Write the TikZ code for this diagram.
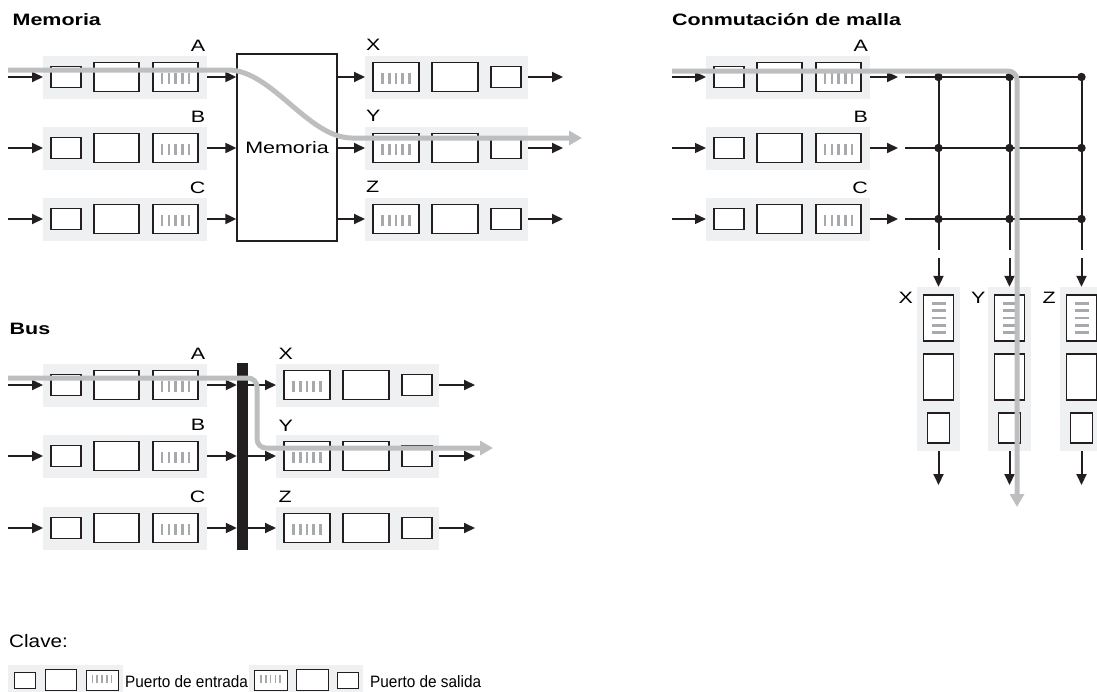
\documentclass[tikz,border=0pt]{standalone}
\usepackage{fontspec}
\setmainfont[FakeStretch=1.3]{Liberation Sans}
\newfontfamily\keyfont[FakeStretch=0.93]{Liberation Sans}
\newfontfamily\clavefont[FakeStretch=1.15]{Liberation Sans}
\usetikzlibrary{arrows.meta}
\definecolor{portbg}{RGB}{239,240,241}
\definecolor{routegray}{RGB}{188,190,192}
\definecolor{stripegray}{RGB}{167,169,172}
\definecolor{ink}{RGB}{35,31,32}
\tikzset{
  inbg/.style={fill=portbg, draw=none, inner sep=0pt, minimum width=164pt, minimum height=43pt},
  outbg/.style={fill=portbg, draw=none, inner sep=0pt, minimum width=163pt, minimum height=43pt},
  colbg/.style={fill=portbg, draw=none, inner sep=0pt, minimum width=43pt, minimum height=164pt},
  pbox/.style={draw=ink, fill=white, line width=1.3pt, inner sep=0pt},
  sbox/.style={pbox, minimum width=30pt, minimum height=21pt},
  mbox/.style={pbox, minimum width=45pt, minimum height=29pt},
  qbox/.style={pbox, minimum width=45pt, minimum height=29pt},
  stripe/.style={draw=stripegray, line width=2.6pt},
  kstripe/.style={draw=stripegray, line width=1.6pt},
  arr/.style={draw=ink, line width=2pt, -{Triangle[length=11pt,width=10pt]}},
  thinarr/.style={arr, line width=1.3pt},
  wire/.style={draw=ink, line width=2pt},
  route/.style={draw=routegray, line width=5pt, -{Triangle[length=13pt,width=14pt]}},
  lbl/.style={inner sep=0pt, font=\fontsize{16.5}{18}\selectfont},
  ttl/.style={inner sep=0pt, font=\fontsize{16.5}{18}\selectfont\bfseries},
  keytxt/.style={inner sep=0pt, font=\keyfont\fontsize{16.5}{18}\selectfont},
}
\newcommand\inport[3]{%
  \node[inbg, anchor=west] (#1) at (#2,#3) {};
  \node[sbox] (#1s) at ([xshift=23pt]#1.west) {};
  \node[mbox] (#1m) at ([xshift=73.5pt]#1.west) {};
  \node[qbox] (#1q) at ([xshift=132.5pt]#1.west) {};
  \foreach \k in {-2,...,2} \draw[stripe] ([xshift=\k*6.7pt,yshift=-6.5pt]#1q.center) -- ([xshift=\k*6.7pt,yshift=4.5pt]#1q.center);
}
\newcommand\outport[3]{%
  \node[outbg, anchor=west] (#1) at (#2,#3) {};
  \node[qbox, minimum width=46pt] (#1q) at ([xshift=31pt]#1.west) {};
  \node[mbox, minimum width=46pt] (#1m) at ([xshift=90pt]#1.west) {};
  \node[sbox] (#1s) at ([xshift=141pt]#1.west) {};
  \foreach \k in {-2,...,2} \draw[stripe] ([xshift=\k*6.7pt,yshift=-6.5pt]#1q.center) -- ([xshift=\k*6.7pt,yshift=4.5pt]#1q.center);
}
\newcommand\colport[2]{%
  \node[colbg] (#1) at (#2,369) {};
  \node[pbox, minimum width=30pt, minimum height=46pt] (#1q) at (#2,318) {};
  \node[pbox, minimum width=30pt, minimum height=46pt] (#1m) at (#2,377) {};
  \node[pbox, minimum width=22pt, minimum height=30pt] (#1s) at (#2,428) {};
  \foreach \k in {-2,...,2} \draw[stripe] ([yshift=\k*7.3pt,xshift=-7pt]#1q.center) -- ([yshift=\k*7.3pt,xshift=7pt]#1q.center);
}
\begin{document}
\begin{tikzpicture}[x=1pt,y=-1pt]
\useasboundingbox (0,0) rectangle (1097,691);

% ================= Memoria =================
\node[ttl, anchor=base west] (t1) at (12.5,25) {Memoria};
\inport{mA}{43}{77}
\inport{mB}{43}{148}
\inport{mC}{43}{219}
\outport{mX}{365}{77}
\outport{mY}{365}{148}
\outport{mZ}{365}{219}
\node[pbox, minimum width=100pt, minimum height=187pt, lbl] (mem) at (287,147.5) {Memoria};
\node[lbl, anchor=base east] (mAl) at (205.5,51) {A};
\node[lbl, anchor=base east] (mBl) at (205.5,122) {B};
\node[lbl, anchor=base east] (mCl) at (205.5,193) {C};
\node[lbl, anchor=base west] (mXl) at (366,50) {X};
\node[lbl, anchor=base west] (mYl) at (366,121) {Y};
\node[lbl, anchor=base west] (mZl) at (366,192) {Z};
\foreach \r/\y in {A/77,B/148,C/219}{
  \coordinate (mi\r) at (8,\y);
  \draw[arr] (mi\r) -- (m\r.west);
  \draw[arr] (m\r.east) -- (mem.west |- m\r.east);
}
\foreach \r/\y in {X/77,Y/148,Z/219}{
  \coordinate (mo\r) at (563,\y);
  \draw[arr] (mem.east |- m\r.west) -- (m\r.west);
  \draw[arr] (m\r.east) -- (mo\r);
}
\coordinate (r1a) at (8,70);
\coordinate (r1b) at (228,70);
\coordinate (r1c) at (352,138);
\coordinate (r1d) at (582,138);
\draw[route] (r1a) -- (r1b) .. controls (272,70) and (308,138) .. (r1c) -- (r1d);

% ================= Bus =================
\node[ttl, anchor=base west] (t2) at (9.5,334) {Bus};
\inport{bA}{43}{385}
\inport{bB}{43}{456}
\inport{bC}{43}{528}
\outport{bX}{276}{385}
\outport{bY}{276}{456}
\outport{bZ}{276}{528}
\node[fill=ink, draw=none, inner sep=0pt, minimum width=11pt, minimum height=187pt] (bus) at (242.5,456.5) {};
\node[lbl, anchor=base east] (bAl) at (205.5,359.5) {A};
\node[lbl, anchor=base east] (bBl) at (205.5,430.5) {B};
\node[lbl, anchor=base east] (bCl) at (205.5,502) {C};
\node[lbl, anchor=base west] (bXl) at (278.5,359) {X};
\node[lbl, anchor=base west] (bYl) at (278.5,431) {Y};
\node[lbl, anchor=base west] (bZl) at (278.5,502) {Z};
\foreach \r/\y in {A/385,B/456,C/528}{
  \coordinate (bi\r) at (8,\y);
  \draw[arr] (bi\r) -- (b\r.west);
  \draw[arr] (b\r.east) -- (bus.west |- b\r.east);
}
\foreach \r/\y in {X/385,Y/456,Z/528}{
  \coordinate (bo\r) at (475,\y);
  \draw[arr] (bus.east |- b\r.west) -- (b\r.west);
  \draw[arr] (b\r.east) -- (bo\r);
}
\coordinate (r2a) at (8,378);
\coordinate (r2b) at (257,448);
\coordinate (r2c) at (493,448);
\draw[route, rounded corners=9pt] (r2a) -| (r2b) -- (r2c);

% ================= Conmutacion de malla =================
\node[ttl, anchor=base west] (t3) at (672,25.5) {Conmutación de malla};
\inport{cA}{706}{77}
\inport{cB}{706}{148}
\inport{cC}{706}{219}
\node[lbl, anchor=base east] (cAl) at (868,51) {A};
\node[lbl, anchor=base east] (cBl) at (868,122) {B};
\node[lbl, anchor=base east] (cCl) at (868,193) {C};
\colport{cX}{938.5}
\colport{cY}{1009.5}
\colport{cZ}{1081.5}
\node[lbl, anchor=base east] (cXl) at (913,303) {X};
\node[lbl, anchor=base east] (cYl) at (985.5,303) {Y};
\node[lbl, anchor=base east] (cZl) at (1056,303) {Z};
\foreach \r/\y/\s in {A/77/arr,B/148/thinarr,C/219/thinarr}{
  \coordinate (ci\r) at (672,\y);
  \coordinate (co\r) at (898,\y);
  \coordinate (cl\r) at (905,\y);
  \coordinate (cr\r) at (1081.5,\y);
  \draw[\s] (ci\r) -- (c\r.west);
  \draw[arr] (c\r.east) -- (co\r);
  \draw[wire] (cl\r) -- (cr\r);
}
\foreach \c/\x in {X/938.5,Y/1009.5,Z/1081.5}{
  \coordinate (vt\c) at (\x,77);
  \coordinate (vb\c) at (\x,250);
  \coordinate (va\c) at (\x,258);
  \coordinate (vo\c) at (\x,485);
  \draw[wire] (vt\c) -- (vb\c);
  \draw[arr] (va\c) -- (c\c.north);
  \draw[arr] (c\c.south) -- (vo\c);
  \foreach \y in {77,148,219} \fill[ink] (\x,\y) circle (4.2pt);
}
\coordinate (r3a) at (672,71);
\coordinate (r3b) at (1017,507);
\draw[route, rounded corners=9pt] (r3a) -| (r3b);

% ================= Clave =================
\node[inner sep=0pt, anchor=base west, font=\clavefont\fontsize{18}{20}\selectfont] (clave) at (9,647.5) {Clave:};
\node[fill=portbg, inner sep=0pt, minimum width=115pt, minimum height=30pt, anchor=north west] (kin) at (8,665) {};
\node[pbox, line width=1pt, minimum width=21pt, minimum height=16pt] (kins) at (24.5,680) {};
\node[pbox, line width=1pt, minimum width=31pt, minimum height=21pt] (kinm) at (60.5,679.5) {};
\node[pbox, line width=1pt, minimum width=32pt, minimum height=20pt] (kinq) at (102,680) {};
\foreach \k in {-2,...,2} \draw[kstripe] ([xshift=\k*4.8pt,yshift=-3pt]kinq.center) -- ([xshift=\k*4.8pt,yshift=5.5pt]kinq.center);
\node[keytxt, anchor=base west] (kint) at (125,687.5) {Puerto de entrada};
\node[fill=portbg, inner sep=0pt, minimum width=114pt, minimum height=30pt, anchor=north west] (kout) at (249,665) {};
\node[pbox, line width=1pt, minimum width=33pt, minimum height=20pt] (koutq) at (270.5,680) {};
\node[pbox, line width=1pt, minimum width=32pt, minimum height=21pt] (koutm) at (312,679.5) {};
\node[pbox, line width=1pt, minimum width=21pt, minimum height=16pt] (kouts) at (347.5,680) {};
\foreach \k in {-2,...,2} \draw[kstripe] ([xshift=\k*4.8pt,yshift=-3pt]koutq.center) -- ([xshift=\k*4.8pt,yshift=5.5pt]koutq.center);
\node[keytxt, anchor=base west] (koutt) at (370,687.5) {Puerto de salida};
\end{tikzpicture}
\end{document}
